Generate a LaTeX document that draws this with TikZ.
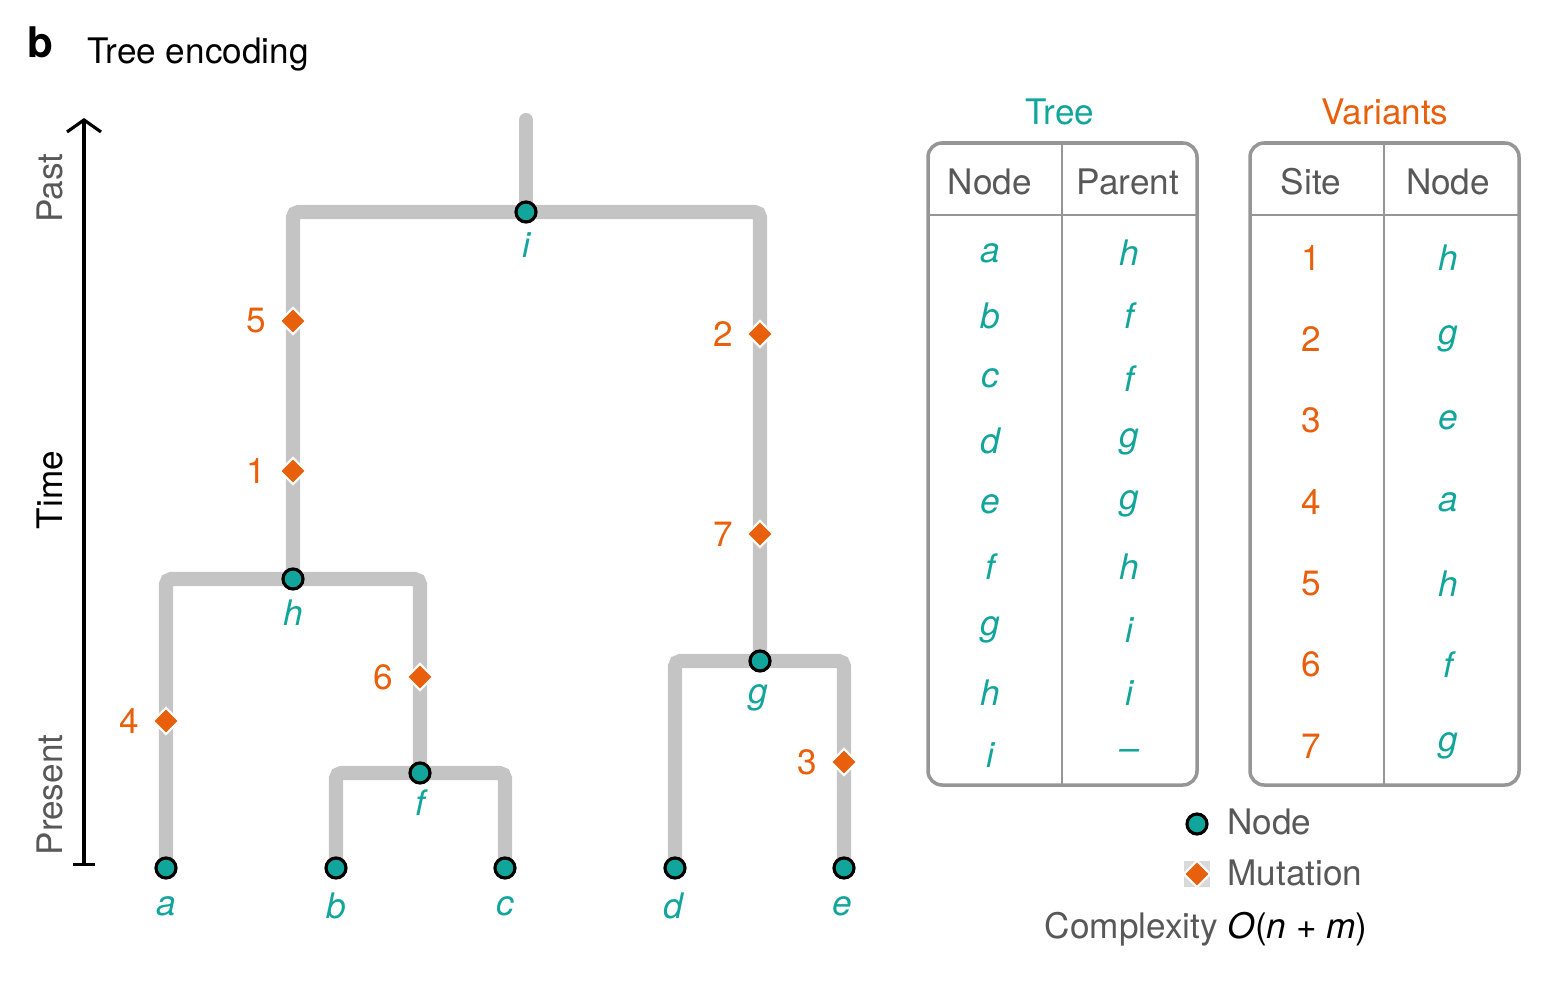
\documentclass[tikz,border=0pt]{standalone}
\usepackage{fontspec}
\setmainfont{TeX Gyre Heros}
\usetikzlibrary{shapes.geometric,arrows.meta,backgrounds}
\definecolor{treeteal}{RGB}{18,165,155}
\definecolor{mutorange}{RGB}{232,96,12}
\definecolor{branchgray}{RGB}{196,196,196}
\definecolor{textgray}{RGB}{88,88,88}
\definecolor{tablegray}{RGB}{150,150,150}
\tikzset{
  branch/.style={draw=branchgray, line width=4pt, line cap=round, rounded corners=1.5pt},
  tnode/.style={circle, fill=treeteal, draw=black, line width=0.9pt, minimum size=0.2cm, inner sep=0pt},
  tlabel/.style={text=treeteal, font=\itshape},
  mut/.style={diamond, fill=mutorange, draw=white, line width=0.6pt, minimum width=0.27cm, minimum height=0.27cm, inner sep=0pt},
  mutlabel/.style={text=mutorange},
  tablebox/.style={draw=tablegray, line width=1pt, rounded corners=4pt},
  tableline/.style={draw=tablegray, line width=0.8pt},
  headtext/.style={text=textgray},
}
\begin{document}
\begin{tikzpicture}[x=0.01cm, y=-0.01cm]
\useasboundingbox (0,0) rectangle (1558,982);
\node[font=\bfseries\fontsize{12}{14}\selectfont] (panel) at (40,42) {b};
\node[anchor=west] (title) at (75,55) {Tree encoding};

% time axis
\draw[line width=0.9pt, {Bar[width=2.2mm]}-{Straight Barb[length=1.2mm,width=3.4mm]}] (84,866) -- (84,118);
\node[headtext, rotate=90] (past) at (50,188) {Past};
\node[rotate=90] (time) at (50,490) {Time};
\node[headtext, rotate=90] (present) at (50,795) {Present};

% tree nodes
\coordinate (top) at (526,120);
\node[tnode] (i) at (526,212) {};
\node[tnode] (h) at (293,579) {};
\node[tnode] (g) at (760,661) {};
\node[tnode] (f) at (420,773) {};
\node[tnode] (a) at (166,868) {};
\node[tnode] (b) at (336,868) {};
\node[tnode] (c) at (505,868) {};
\node[tnode] (d) at (675,868) {};
\node[tnode] (e) at (844,868) {};
\foreach \n/\x/\y in {i/526/245, h/293/613, g/758/698, f/420/803, a/166/906, b/336/906, c/505/906, d/673/906, e/842/906}
  \node[tlabel] (lab-\n) at (\x,\y) {\n};

\begin{pgfonlayer}{background}
\draw[branch] (top) -- (i.center);
\draw[branch] (h.center) |- (i.center) -| (g.center);
\draw[branch] (a.center) |- (h.center) -| (f.center);
\draw[branch] (b.center) |- (f.center) -| (c.center);
\draw[branch] (d.center) |- (g.center) -| (e.center);
\end{pgfonlayer}

% mutations
\foreach \m/\x/\y in {5/293/321, 1/293/471, 2/760/334, 7/760/534, 6/420/677, 4/166/721, 3/844/762}
  \node[mut, label={[mutlabel]left:\m}] (mut\m) at (\x,\y) {};

% tree table
\node[text=treeteal] (treetitle) at (1060,112) {Tree};
\draw[tablebox] (928,143) rectangle (1197,785);
\draw[tableline] (928,215) -- (1197,215);
\draw[tableline] (1062,143) -- (1062,785);
\node[headtext] (treehead1) at (990,182) {Node};
\node[headtext] (treehead2) at (1128,182) {Parent};
\foreach \n/\p [count=\k] in {a/h, b/f, c/f, d/g, e/g, f/h, g/i, h/i, i/\textendash}{
  \node[tlabel] (tn\k) at (990,{253+62.8*(\k-1)}) {\n};
  \node[tlabel] (tp\k) at (1129,{253+62.8*(\k-1)}) {\p};
}

% variants table
\node[text=mutorange] (vartitle) at (1385,112) {Variants};
\draw[tablebox] (1250,143) rectangle (1519,785);
\draw[tableline] (1250,215) -- (1519,215);
\draw[tableline] (1384,143) -- (1384,785);
\node[headtext] (varhead1) at (1311,182) {Site};
\node[headtext] (varhead2) at (1448,182) {Node};
\foreach \s/\n [count=\k] in {1/h, 2/g, 3/e, 4/a, 5/h, 6/f, 7/g}{
  \node[mutlabel] (vs\k) at (1311,{258+81.3*(\k-1)}) {\s};
  \node[tlabel] (vn\k) at (1448,{258+81.3*(\k-1)}) {\n};
}

% legend
\node[tnode] (legnode) at (1197,824) {};
\node[headtext, anchor=west] (legnodetext) at (1215,822) {Node};
\fill[gray!30] (1184,861) rectangle (1210,887);
\node[mut] (legmut) at (1197,874) {};
\node[headtext, anchor=west] (legmuttext) at (1215,873) {Mutation};
\node[anchor=east] (complexity) at (1380,929) {\textcolor{textgray}{Complexity} \textit{O}(\textit{n} + \textit{m})};
\end{tikzpicture}
\end{document}
